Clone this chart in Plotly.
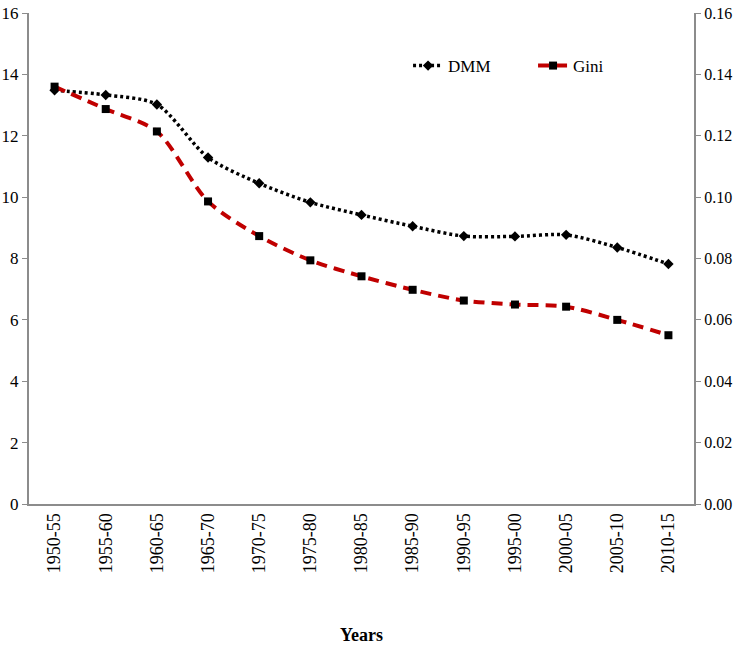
import plotly.graph_objects as go

periods = ["1950-55", "1955-60", "1960-65", "1965-70", "1970-75", "1975-80", "1980-85",
           "1985-90", "1990-95", "1995-00", "2000-05", "2005-10", "2010-15"]
dmm = [13.48, 13.33, 13.02, 11.29, 10.45, 9.83, 9.42, 9.05, 8.73, 8.72, 8.77, 8.36, 7.82]
gini = [0.1360, 0.1287, 0.1214, 0.0986, 0.0873, 0.0794, 0.0742, 0.0698, 0.0663, 0.0650, 0.0643, 0.0600, 0.0550]

FONT = "Liberation Serif"
AXC = "#8c8c8c"

fig = go.Figure()
fig.add_trace(go.Scatter(
    x=periods, y=dmm, name="DMM", mode="lines+markers",
    line=dict(color="black", width=3.5, dash="3px,3px", shape="spline", smoothing=0.8),
    marker=dict(symbol="diamond", size=8, color="black"),
    yaxis="y"))
fig.add_trace(go.Scatter(
    x=periods, y=gini, name="Gini", mode="lines+markers",
    line=dict(color="#C00000", width=4, dash="11px,7px", shape="spline", smoothing=0.8),
    marker=dict(symbol="square", size=8, color="black"),
    yaxis="y2"))

fig.update_layout(
    width=734, height=649,
    margin=dict(l=29, r=40, t=13, b=145),
    paper_bgcolor="white", plot_bgcolor="white",
    font=dict(family=FONT, size=17, color="black"),
    showlegend=True,
    legend=dict(orientation="h", x=0.57, y=0.892, xanchor="left", yanchor="middle",
                font=dict(family=FONT, size=17), entrywidth=80, bgcolor="rgba(0,0,0,0)"),
    xaxis=dict(type="category", range=[-0.5, 12.5], showline=True, linecolor=AXC, linewidth=2,
               showgrid=False, ticks="", tickangle=-90, automargin=False,
               tickfont=dict(family=FONT, size=18),
               title=dict(text="<b>Years</b>", font=dict(family=FONT, size=18), standoff=56)),
    yaxis=dict(range=[0, 16], dtick=2, showline=True, linecolor=AXC, linewidth=2,
               showgrid=False, zeroline=False, ticks="outside", ticklen=5, tickcolor=AXC,
               automargin=False, tickfont=dict(family=FONT, size=17)),
    yaxis2=dict(range=[0, 0.16], dtick=0.02, tickformat=".2f", overlaying="y", side="right",
                showline=True, linecolor=AXC, linewidth=2, showgrid=False, zeroline=False,
                ticks="outside", ticklen=5, tickcolor=AXC, automargin=False,
                tickfont=dict(family=FONT, size=16)),
)

fig.write_html("out.html", config={"displayModeBar": False},
               post_script="document.body.style.margin='0';document.body.style.overflow='hidden';")
